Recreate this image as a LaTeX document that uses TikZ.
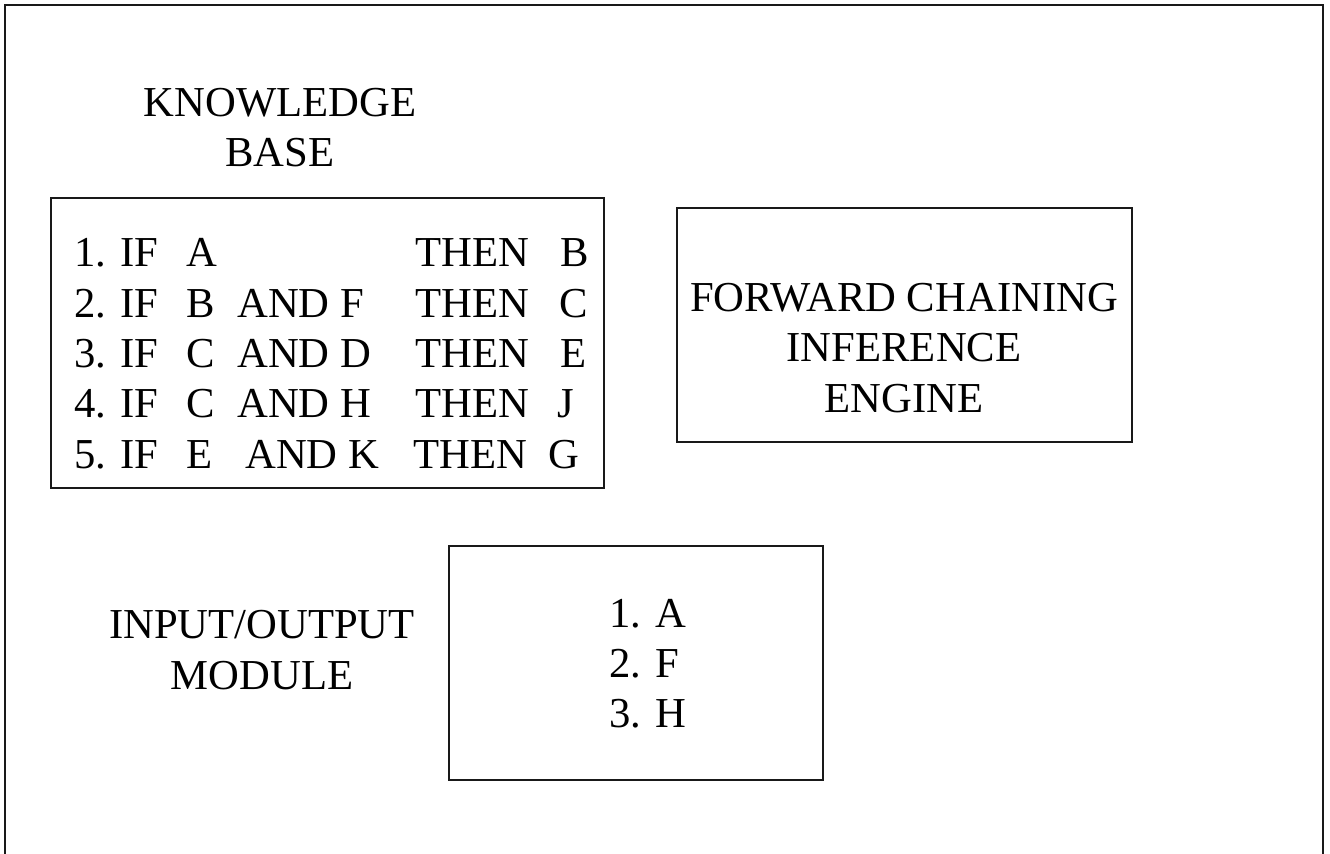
\documentclass[tikz,border=0pt]{standalone}
\usepackage{fontspec}
\setmainfont{Liberation Serif}
\newdimen\pxu
\pxu=0.75pt
\begin{document}
\begin{tikzpicture}[x=0.75pt,y=-0.75pt,
  frame/.style={line width=1.5pt, draw=black!90},
  boxstyle/.style={draw=black!90, line width=1.3pt, inner sep=0, fill=none},
  txt/.style={inner sep=0, anchor=base, font=\fontsize{32}{38}\selectfont},
  txtw/.style={inner sep=0, anchor=base west, font=\fontsize{32}{38}\selectfont}]
\useasboundingbox (0,0) rectangle (1330,853);
% outer frame (bottom edge not shown)
\coordinate (fbl) at (5,870);
\coordinate (ftl) at (5,5);
\coordinate (ftr) at (1323,5);
\coordinate (fbr) at (1323,870);
\draw[frame] (fbl) -- (ftl) -- (ftr) -- (fbr);

% knowledge base
\node[txt] (kb1) at (280,116) {KNOWLEDGE};
\node[txt] (kb2) at (280,166) {BASE};
\node[boxstyle, minimum width=553\pxu, minimum height=290\pxu] (kbbox) at (327.5,343) {};

\foreach \i/\y/\a/\b/\bx/\c/\tx/\d/\dx in {
  1/266/A//237/B/415/B/560,
  2/317/B/AND F/237/C/415/C/559,
  3/367/C/AND D/237/E/415/E/560,
  4/417/C/AND H/237/J/415/J/557,
  5/468/E/AND K/245/G/413/G/548}{
  \node[txtw] (r\i n) at (74,\y) {\i. IF};
  \node[txtw] (r\i a) at (186,\y) {\a};
  \node[txtw] (r\i b) at (\bx,\y) {\b};
  \node[txtw] (r\i t) at (\tx,\y) {THEN};
  \node[txtw] (r\i c) at (\dx,\y) {\d};
}

% forward chaining inference engine
\node[boxstyle, minimum width=455\pxu, minimum height=234\pxu] (fcbox) at (904.5,325) {};
\node[txt] (fc1) at (904,311) {FORWARD CHAINING};
\node[txt] (fc2) at (904,361) {INFERENCE};
\node[txt] (fc3) at (904,412) {ENGINE};

% input/output module
\node[txt] (io1) at (262,638) {INPUT/OUTPUT};
\node[txt] (io2) at (262,689) {MODULE};
\node[boxstyle, minimum width=374\pxu, minimum height=234\pxu] (iobox) at (636,663) {};
\node[txtw] (f1) at (609,627) {1. A};
\node[txtw] (f2) at (609,677) {2. F};
\node[txtw] (f3) at (609,727) {3. H};
\end{tikzpicture}
\end{document}
